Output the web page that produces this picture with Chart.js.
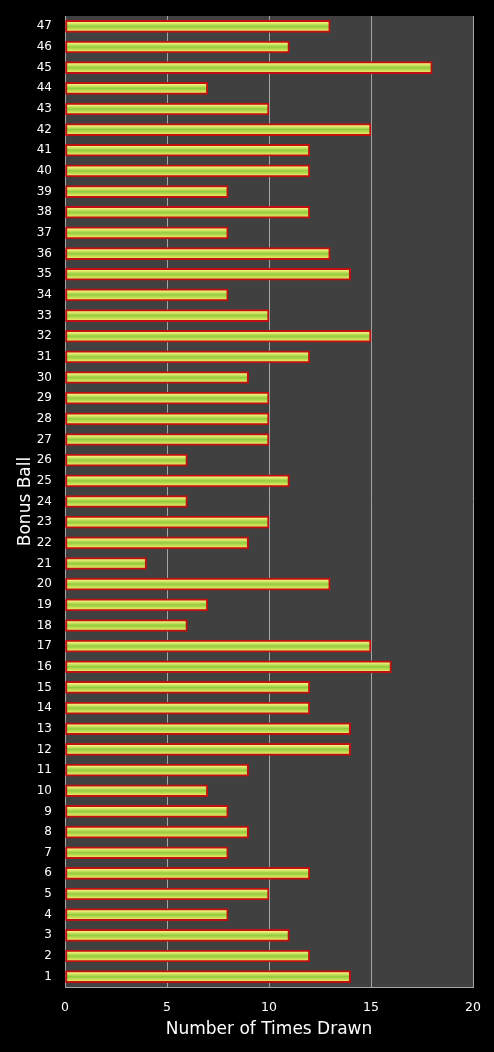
<!DOCTYPE html>
<html>
<head>
<meta charset="utf-8">
<script src="https://cdn.jsdelivr.net/npm/chart.js@4/dist/chart.umd.min.js"></script>
<style>
  html, body { margin: 0; padding: 0; background: #000; }
  #wrap { width: 494px; height: 1052px; }
</style>
</head>
<body>
<div id="wrap"><canvas id="grafico"></canvas></div>
<script>
// Bolas (1 em baixo, 47 em cima)
const bolas = ["1","2","3","4","5","6","7","8","9","10","11","12","13","14","15","16",
  "17","18","19","20","21","22","23","24","25","26","27","28","29","30","31","32",
  "33","34","35","36","37","38","39","40","41","42","43","44","45","46","47"];
// Número de vezes sorteada
const vezes = [14,12,11,8,10,12,8,9,8,7,9,14,14,12,12,16,
  15,6,7,13,4,9,10,6,11,6,10,10,10,9,12,15,
  10,8,14,13,8,12,8,12,12,15,10,7,18,11,13];
const ticksX = [0, 5, 10, 15, 20];

const fonte = "'DejaVu Sans', sans-serif";

// Fundo cinza da área do gráfico
const fundoArea = {
  id: "fundoArea",
  beforeDraw(chart) {
    const a = chart.chartArea, c = chart.ctx;
    c.save();
    c.fillStyle = "#000";
    c.fillRect(0, 0, chart.width, chart.height);
    c.fillStyle = "#404040";
    c.fillRect(a.left, a.top, a.right - a.left, a.bottom - a.top);
    c.restore();
  }
};

// Gradiente vertical em cada barra
function corBarra(ctx) {
  const chart = ctx.chart;
  const y = chart.scales.y;
  if (!y || ctx.dataIndex == null) return "#9c3";
  const py = y.getPixelForValue(ctx.dataIndex);
  if (!isFinite(py)) return "#9c3";
  const g = chart.ctx.createLinearGradient(0, py - 4, 0, py + 4);
  g.addColorStop(0, "#f6f27a");
  g.addColorStop(0.5, "#92cc3e");
  g.addColorStop(1, "#e2e660");
  return g;
}

new Chart(document.getElementById("grafico").getContext("2d"), {
  type: "bar",
  data: {
    labels: bolas,
    datasets: [{
      data: vezes,
      backgroundColor: corBarra,
      borderColor: "#c01010",
      borderWidth: 2,
      borderSkipped: false,
      barThickness: 12
    }]
  },
  plugins: [fundoArea],
  options: {
    indexAxis: "y",
    responsive: true,
    maintainAspectRatio: false,
    animation: false,
    layout: { padding: { top: 16, right: 16, left: 17, bottom: 12 } },
    plugins: { legend: { display: false }, tooltip: { enabled: false } },
    scales: {
      x: {
        min: 0, max: 20,
        afterBuildTicks(s) { s.ticks = ticksX.map(v => ({ value: v })); },
        afterFit(s) { s.height = 53; },
        grid: { color: "#a6a6a6", lineWidth: 1, drawTicks: false },
        border: { color: "#a6a6a6" },
        ticks: { color: "#fff", font: { family: fonte, size: 12.5 }, padding: 13 },
        title: { display: true, text: "Number of Times Drawn", color: "#fff",
                 font: { family: fonte, size: 17 }, padding: { top: 4, bottom: 0 } }
      },
      y: {
        reverse: true,
        afterFit(s) { s.width = 48; s.paddingTop = 0; s.paddingBottom = 0; },
        grid: { display: false, drawTicks: false },
        border: { color: "#a6a6a6" },
        ticks: { color: "#fff", font: { family: fonte, size: 12 }, padding: 13, autoSkip: false },
        title: { display: true, text: "Bonus Ball", color: "#fff",
                 font: { family: fonte, size: 17, lineHeight: 1 }, padding: { top: 0, bottom: 3 } }
      }
    }
  }
});
</script>
</body>
</html>
